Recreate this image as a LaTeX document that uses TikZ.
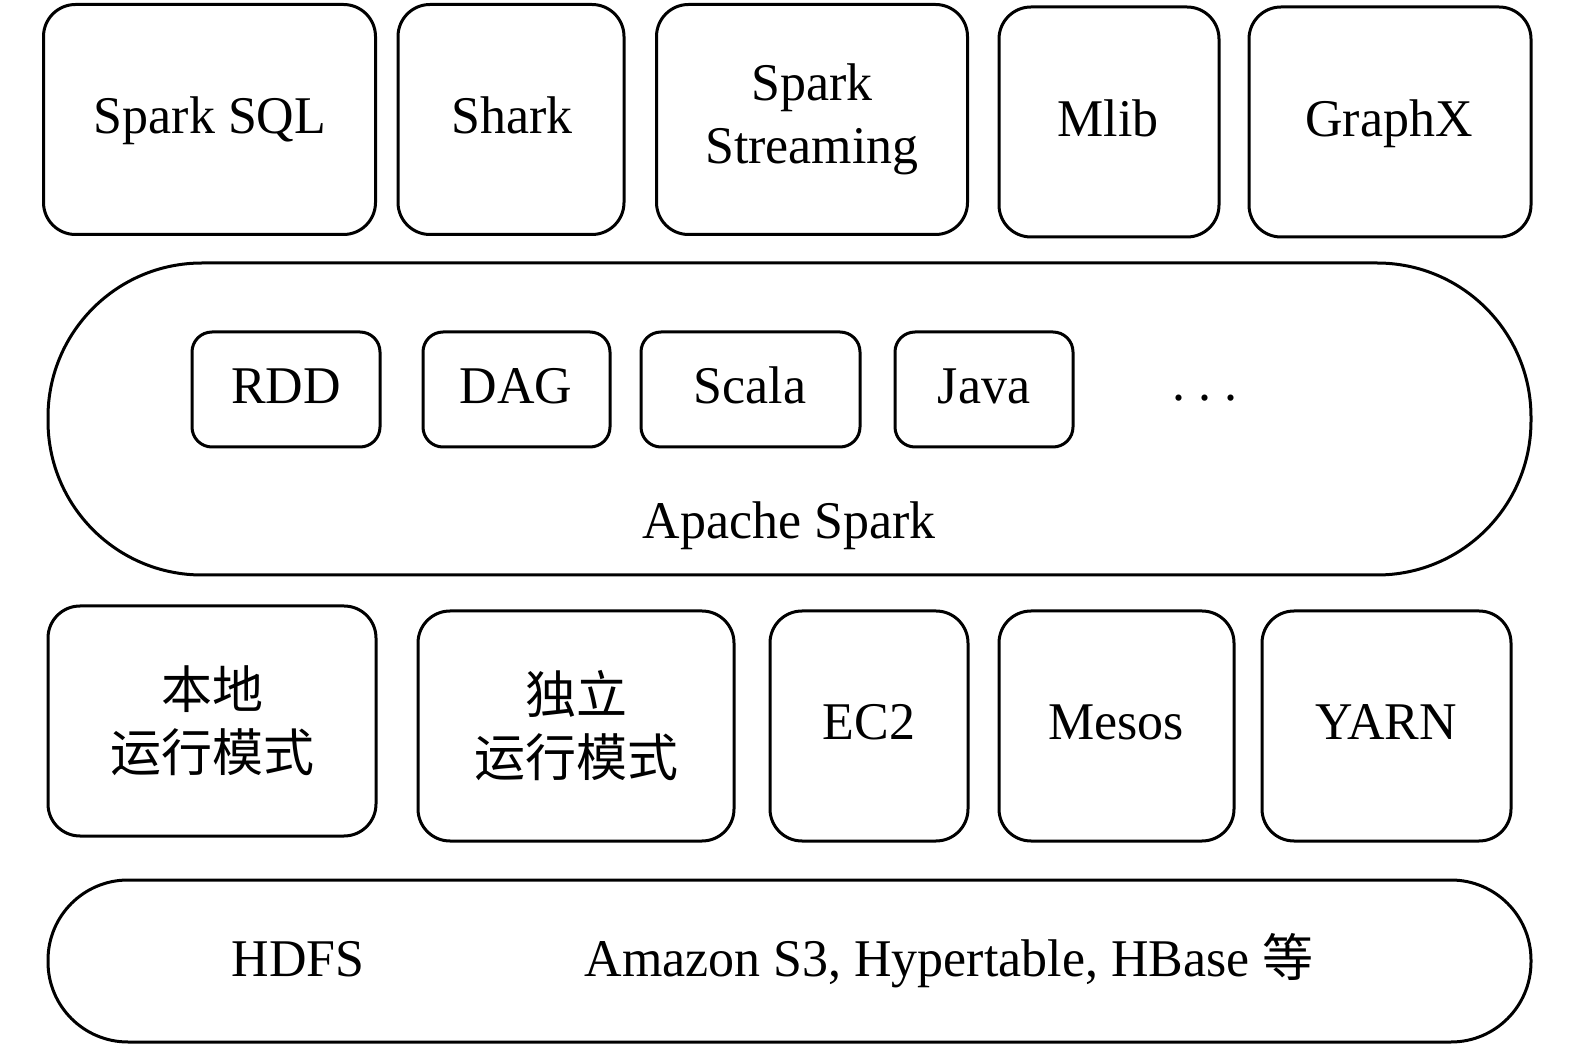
\documentclass[tikz,border=0pt]{standalone}
\usepackage{fontspec}
\setmainfont{Liberation Serif}[FakeStretch=0.98]
\newfontfamily\cjk{Noto Sans CJK SC}
\begin{document}
\begin{tikzpicture}[x=0.5pt,y=-0.5pt,
  lbl/.style={font=\fontsize{26.5pt}{31.5pt}\selectfont, align=center, inner sep=0pt},
  txt/.style={lbl, anchor=base},
  frame/.style={draw, line width=1.5pt, inner sep=0pt},
  topbox/.style={frame, rounded corners=16pt, minimum height=115pt},
  inbox/.style={frame, rounded corners=10pt, minimum height=57.5pt},
  botbox/.style={frame, rounded corners=16pt, minimum height=115pt},
  zh/.style={lbl, font=\cjk\fontsize{25.5pt}{31.5pt}\selectfont}]
\useasboundingbox (0,0) rectangle (1575,1047);
% top row
\node[topbox, minimum width=166pt] (sql) at (209.5,119.5) {};
\node[txt] (sqlt) at (210,134) {Spark SQL};
\node[topbox, minimum width=113pt] (shark) at (511,119.5) {};
\node[txt] (sharkt) at (512,134) {Shark};
\node[topbox, minimum width=155.5pt, lbl] (stream) at (812,119.5) {Spark\\Streaming};
\node[topbox, minimum width=110pt] (mlib) at (1109,122) {};
\node[txt] (mlibt) at (1108,137) {Mlib};
\node[topbox, minimum width=141pt] (graphx) at (1390,122) {};
\node[txt] (graphxt) at (1389,137) {GraphX};
% Apache Spark stadium
\node[frame, rounded corners=77pt, minimum width=741.5pt, minimum height=156pt] (spark) at (789.5,419) {};
\node[inbox, minimum width=94pt] (rdd) at (286,389.5) {};
\node[txt] (rddt) at (286,404) {RDD};
\node[inbox, minimum width=93.5pt] (dag) at (516.5,389.5) {};
\node[txt] (dagt) at (516,404) {DAG};
\node[inbox, minimum width=109.5pt] (scala) at (750.5,389.5) {};
\node[txt] (scalat) at (750,404) {Scala};
\node[inbox, minimum width=89pt] (java) at (984,389.5) {};
\node[txt] (javat) at (984,404) {Java};
\node[lbl] (dots) at (1205,398) {.\ .\ .};
\node[txt] (aps) at (789,539) {Apache Spark};
% bottom row
\node[botbox, minimum width=164pt, zh] (local) at (212,721) {本地\\运行模式};
\node[botbox, minimum width=158pt, zh] (standalone) at (576,726) {独立\\运行模式};
\node[botbox, minimum width=99pt] (ec2) at (869,726) {};
\node[txt] (ec2t) at (869,740) {EC2};
\node[botbox, minimum width=117.5pt] (mesos) at (1116.5,726) {};
\node[txt] (mesost) at (1116,740) {Mesos};
\node[botbox, minimum width=124.5pt] (yarn) at (1386.5,726) {};
\node[txt] (yarnt) at (1386,740) {YARN};
% storage stadium
\node[frame, rounded corners=40pt, minimum width=741.5pt, minimum height=81pt] (store) at (789.5,961) {};
\node[txt] (hdfs) at (298,976) {HDFS};
\node[txt] (others) at (949,976) {Amazon S3, Hypertable, HBase {\cjk\fontsize{25.5pt}{31.5pt}\selectfont 等}};
\end{tikzpicture}
\end{document}
